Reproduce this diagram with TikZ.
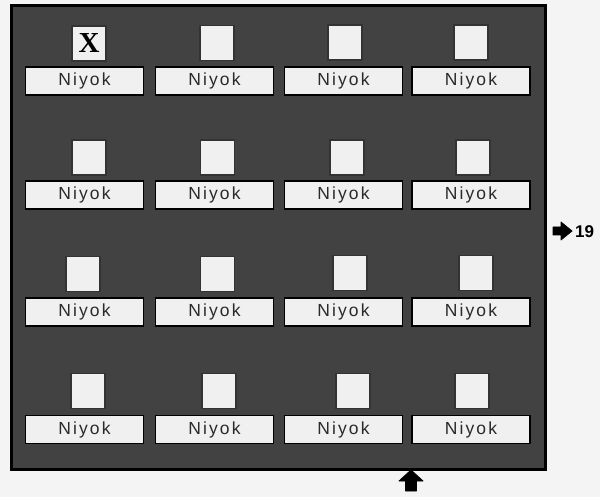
\documentclass[tikz,border=0pt]{standalone}
\usepackage{fontspec}
\setmainfont{Liberation Sans}
\newfontfamily\lblfont[LetterSpace=12]{Liberation Sans}
\newfontfamily\xfont{Liberation Serif}
\definecolor{pagebg}{HTML}{F4F4F4}
\definecolor{panelbg}{HTML}{424242}
\definecolor{boxbg}{HTML}{F0F0F0}
\definecolor{txt}{HTML}{2A2A2A}
\begin{document}
\begin{tikzpicture}[x=1pt,y=-1pt,
  lbl/.style={draw=black,line width=1.6pt,fill=boxbg,minimum width=118pt,minimum height=28pt,inner sep=0pt,
    font=\lblfont\fontsize{17.5}{17.5}\selectfont,text=txt},
  sq/.style={draw=black!80,line width=1.2pt,fill=boxbg,minimum width=34pt,minimum height=35pt,inner sep=0pt},
  blockarrow/.style={fill=black,draw=black,line width=0.8pt,line join=round}]
\useasboundingbox (0,0) rectangle (600,497);
\fill[pagebg] (0,0) rectangle (600,497);
% panel
\node[draw=black,line width=3pt,fill=panelbg,minimum width=534pt,minimum height=464pt,inner sep=0pt,anchor=north west] (panel) at (10,4) {};
% labels
\foreach \r/\y in {1/81,2/195,3/312,4/429.5}{
  \foreach \c/\x in {1/84.5,2/214.5,3/343.5,4/471}{
    \node[lbl] (l\r\c) at (\x,\y) {Niyok};
  }
}
% squares
\node[sq] (s11) at (89,43.5) {\xfont\bfseries\fontsize{29}{29}\selectfont X};
\node[sq] (s12) at (217,43) {};
\node[sq] (s13) at (345,42.5) {};
\node[sq] (s14) at (471,42.5) {};
\node[sq] (s21) at (89,157.5) {};
\node[sq] (s22) at (217.5,157.5) {};
\node[sq] (s23) at (347,157.5) {};
\node[sq] (s24) at (473,157.5) {};
\node[sq] (s31) at (83,274) {};
\node[sq] (s32) at (217.5,274) {};
\node[sq] (s33) at (350,273) {};
\node[sq] (s34) at (476,273) {};
\node[sq] (s41) at (88,391) {};
\node[sq] (s42) at (219,391) {};
\node[sq] (s43) at (353,391) {};
\node[sq] (s44) at (472,391) {};
% right arrow and text
\fill[blockarrow] (553,227) -- (561,227) -- (561,222) -- (572,231) -- (561,240) -- (561,235) -- (553,235) -- cycle;
\node[anchor=west,inner sep=0pt,font=\bfseries\fontsize{17}{17}\selectfont,text=black] (num) at (575,231.5) {19};
% up arrow
\fill[blockarrow] (405.5,491) -- (405.5,481) -- (399,481) -- (411,470) -- (423,481) -- (416.5,481) -- (416.5,491) -- cycle;
\end{tikzpicture}
\end{document}
